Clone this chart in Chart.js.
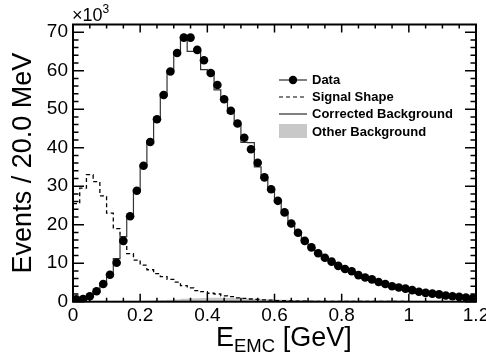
<!DOCTYPE html>
<html>
<head>
<meta charset="utf-8">
<script src="https://cdn.jsdelivr.net/npm/chart.js@4.4.0/dist/chart.umd.min.js"></script>
<style>
  body { margin: 0; background: #fff; }
  #wrap {
    position: relative; width: 486px; height: 360px; overflow: hidden;
    font-family: 'Liberation Sans', Arial, sans-serif; color: #000;
  }
  #chart { position: absolute; left: 0; top: 0; }
  .exp { position: absolute; left: 72px; top: 3px; font-size: 18px; line-height: 1; }
  .exp sup { font-size: 12px; vertical-align: 8px; }
  .xtitle { position: absolute; left: 216px; top: 324px; font-size: 27px; line-height: 1; white-space: nowrap; }
  .xtitle sub { font-size: 18.5px; vertical-align: -6px; }
  #legend { position: absolute; left: 279px; top: 71px; font-size: 13px; font-weight: bold; }
  #legend .row { height: 17.2px; display: flex; align-items: center; white-space: nowrap; }
  #legend svg { width: 28px; height: 16px; margin-right: 5px; flex: none; }
</style>
</head>
<body>
<div id="wrap">
  <canvas id="chart" width="486" height="360"></canvas>
  <div class="exp">&times;10<sup>3</sup></div>
  <div class="xtitle">E<sub>EMC</sub> [GeV]</div>
  <div id="legend">
    <div class="row"><svg viewBox="0 0 28 16"><line x1="0" y1="8" x2="28" y2="8" stroke="#000" stroke-width="1"/><circle cx="14" cy="8" r="4.2" fill="#000"/></svg>Data</div>
    <div class="row"><svg viewBox="0 0 28 16"><line x1="0" y1="8" x2="28" y2="8" stroke="#000" stroke-width="1.2" stroke-dasharray="4 3"/></svg>Signal Shape</div>
    <div class="row"><svg viewBox="0 0 28 16"><line x1="0" y1="8" x2="28" y2="8" stroke="#000" stroke-width="1"/></svg>Corrected Background</div>
    <div class="row"><svg viewBox="0 0 28 16"><rect x="0" y="1" width="28" height="14" fill="#c8c8c8"/></svg>Other Background</div>
  </div>
</div>
<script>
// E_EMC histogram, 20 MeV bins from 0 to 1.2 GeV (counts in units of 10^3)
const BIN_WIDTH = 0.02;
const binEdges = Array.from({ length: 61 }, (_, i) => +(i * BIN_WIDTH).toFixed(2));
const binCenters = binEdges.slice(0, 60).map(e => +(e + BIN_WIDTH / 2).toFixed(2));

const xTicks = [0, 0.2, 0.4, 0.6, 0.8, 1, 1.2];
const yTicks = [0, 10, 20, 30, 40, 50, 60, 70];

const dataEvents = [
  0.6, 0.7, 1.4, 2.7, 4.6, 7.0, 10.1, 15.8, 22.2, 28.8,
  35.3, 41.5, 47.4, 53.7, 59.8, 64.6, 68.6, 68.6, 65.4, 62.7,
  59.4, 56.3, 52.6, 49.6, 46.3, 42.6, 39.6, 36.1, 32.3, 29.2,
  26.2, 23.2, 20.3, 17.9, 15.8, 14.1, 12.6, 11.4, 10.4, 9.3,
  8.5, 7.9, 6.9, 6.3, 5.8, 5.1, 4.6, 4.0, 3.7, 3.4,
  3.0, 2.6, 2.3, 2.1, 1.9, 1.6, 1.4, 1.25, 1.1, 0.9
];

const correctedBg = [
  0.5, 0.7, 1.2, 2.5, 4.4, 6.9, 11.2, 16.9, 22.5, 29.0,
  35.5, 41.8, 47.8, 54.0, 60.0, 64.8, 68.5, 65.0, 65.0, 60.3,
  59.8, 55.0, 52.8, 49.0, 46.0, 41.4, 41.3, 35.0, 32.0, 29.0,
  26.0, 23.0, 20.2, 17.8, 15.9, 14.0, 12.6, 11.4, 10.4, 9.3,
  8.5, 7.8, 7.0, 6.3, 5.7, 5.1, 4.6, 4.1, 3.7, 3.4,
  3.0, 2.6, 2.3, 2.1, 1.9, 1.6, 1.4, 1.25, 1.1, 0.9
];

const signalShape = [
  25.5, 29.5, 33.0, 31.2, 27.5, 23.0, 19.0, 15.0, 12.5, 10.8,
  9.5, 8.3, 7.3, 6.5, 5.8, 5.1, 4.2, 3.6, 2.9, 2.6,
  2.2, 2.0, 1.5, 1.3, 1.0, 0.85, 0.7, 0.6, 0.5, 0.4,
  0.3, 0.25, 0.2, 0.15, 0.15, 0.1, 0.1, 0.1, 0.1, 0.1,
  0.1, 0.08, 0.08, 0.07, 0.07, 0.06, 0.06, 0.05, 0.05, 0.05,
  0.04, 0.04, 0.04, 0.04, 0.04, 0.03, 0.03, 0.03, 0.03, 0.03
];

const otherBg = [
  0.05, 0.05, 0.05, 0.05, 0.05, 0.05, 0.05, 0.05, 0.08, 0.1,
  0.15, 0.22, 0.3, 0.4, 0.5, 0.6, 0.75, 0.85, 0.9, 0.95,
  1.0, 1.0, 1.0, 0.95, 0.9, 0.85, 0.8, 0.75, 0.7, 0.65,
  0.6, 0.5, 0.45, 0.4, 0.35, 0.3, 0.25, 0.2, 0.15, 0.1,
  0.08, 0.07, 0.06, 0.06, 0.05, 0.05, 0.05, 0.04, 0.04, 0.04,
  0.04, 0.03, 0.03, 0.03, 0.03, 0.03, 0.02, 0.02, 0.02, 0.02
];

const FONT = "'Liberation Sans', Arial, sans-serif";

// step histogram: one point per low edge plus the closing edge
function histPoints(values) {
  const pts = values.map((v, i) => ({ x: binEdges[i], y: v }));
  pts.push({ x: binEdges[values.length], y: values[values.length - 1] });
  return pts;
}

// ROOT-like frame with inward ticks on all four sides
const frameTicks = {
  id: 'frameTicks',
  afterDraw(chart) {
    const { ctx, chartArea: a, scales: { x, y } } = chart;
    ctx.save();
    ctx.strokeStyle = '#000';
    ctx.lineWidth = 1.5;
    ctx.beginPath();
    for (let i = 0; i <= 24; i++) {
      const px = x.getPixelForValue(i * 0.05);
      const len = i % 4 === 0 ? 8 : 4;
      ctx.moveTo(px, a.bottom); ctx.lineTo(px, a.bottom - len);
      ctx.moveTo(px, a.top); ctx.lineTo(px, a.top + len);
    }
    for (let i = 0; i <= 35; i++) {
      const py = y.getPixelForValue(i * 2);
      const len = i % 5 === 0 ? 11 : 5.5;
      ctx.moveTo(a.left, py); ctx.lineTo(a.left + len, py);
      ctx.moveTo(a.right, py); ctx.lineTo(a.right - len, py);
    }
    ctx.stroke();
    ctx.lineWidth = 2;
    ctx.strokeRect(a.left, a.top, a.right - a.left, a.bottom - a.top);
    ctx.restore();
  }
};

function noPad(scale) {
  scale.paddingLeft = scale.paddingRight = scale.paddingTop = scale.paddingBottom = 0;
}

new Chart(document.getElementById('chart'), {
  type: 'line',
  data: {
    datasets: [
      {
        label: 'Data',
        data: binCenters.map((c, i) => ({ x: c, y: dataEvents[i] })),
        showLine: false,
        pointRadius: 4.3,
        pointBackgroundColor: '#000',
        pointBorderWidth: 0
      },
      {
        label: 'Corrected Background',
        data: histPoints(correctedBg),
        stepped: 'before',
        borderColor: '#333',
        borderWidth: 1.2,
        pointRadius: 0,
        fill: false
      },
      {
        label: 'Signal Shape',
        data: histPoints(signalShape),
        stepped: 'before',
        borderColor: '#000',
        borderWidth: 1.3,
        borderDash: [4, 3],
        pointRadius: 0,
        fill: false
      },
      {
        label: 'Other Background',
        data: histPoints(otherBg),
        stepped: 'before',
        borderWidth: 0,
        borderColor: 'rgba(0,0,0,0)',
        backgroundColor: '#c8c8c8',
        pointRadius: 0,
        fill: 'origin'
      }
    ]
  },
  options: {
    responsive: false,
    animation: false,
    events: [],
    layout: { padding: { top: 24.5, right: 10, left: 0, bottom: 0 } },
    plugins: {
      legend: { display: false },
      tooltip: { enabled: false }
    },
    scales: {
      x: {
        type: 'linear',
        min: 0,
        max: 1.2,
        grid: { display: false, drawTicks: false },
        border: { display: false },
        afterBuildTicks: (s) => { s.ticks = xTicks.map(v => ({ value: v })); },
        afterFit: (s) => { s.height = 58.3; noPad(s); },
        ticks: {
          padding: 3,
          color: '#000',
          font: { family: FONT, size: 19 },
          maxRotation: 0,
          callback: (v) => String(Math.round(v * 10) / 10)
        }
      },
      y: {
        min: 0,
        max: 72,
        grid: { display: false, drawTicks: false },
        border: { display: false },
        afterBuildTicks: (s) => { s.ticks = yTicks.map(v => ({ value: v })); },
        afterFit: (s) => { s.width = 73; noPad(s); },
        ticks: {
          padding: 5,
          color: '#000',
          font: { family: FONT, size: 19 }
        },
        title: {
          display: true,
          text: 'Events / 20.0 MeV',
          color: '#000',
          font: { family: FONT, size: 27 },
          padding: { top: 7, bottom: 0 }
        }
      }
    }
  },
  plugins: [frameTicks]
});
</script>
</body>
</html>
